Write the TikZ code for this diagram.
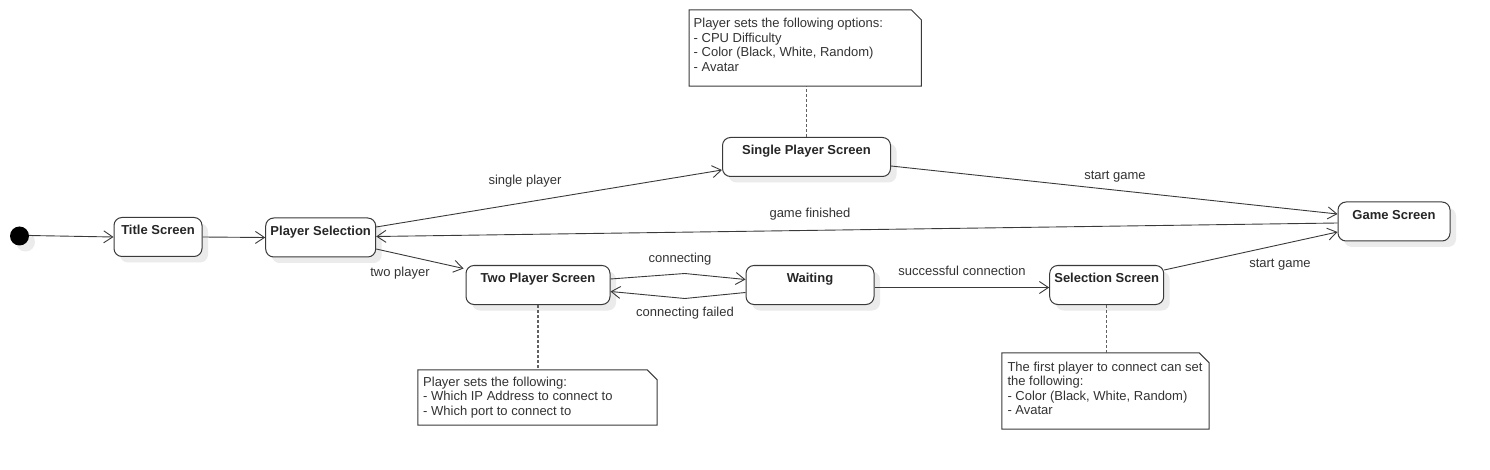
\documentclass[tikz,border=0pt]{standalone}
\usepackage{fontspec}
\setmainfont{Liberation Sans}
\usetikzlibrary{arrows.meta,shadows,calc}
\definecolor{linec}{HTML}{3A3A3A}
\definecolor{textc}{HTML}{262626}
\definecolor{labc}{HTML}{333333}
\definecolor{shadowc}{HTML}{EBEBEB}
\definecolor{dotc}{HTML}{606060}
\begin{document}
\begin{tikzpicture}[x=1pt,y=-1pt,
  font=\fontsize{13}{14.5}\selectfont,
  shade/.style={drop shadow={shadow xshift=6pt, shadow yshift=-6pt, fill=shadowc, opacity=1}},
  statebox/.style={draw=linec, line width=1pt, fill=white, rounded corners=8pt,
    minimum height=39pt, inner xsep=3pt, inner ysep=4pt,
    text height=13.5pt, text depth=17.5pt,
    font=\fontsize{13}{14.5}\selectfont\bfseries, text=textc, shade},
  arr/.style={draw=linec, line width=0.9pt, -{Straight Barb[length=9pt,width=12pt,line width=0.9pt]}},
  lab/.style={text=labc, inner sep=0pt},
  noteshape/.style={draw=none, minimum width=0pt, inner sep=0pt},
  noteline/.style={draw=linec, line width=1pt},
  notetext/.style={text=labc, inner sep=0pt, align=left, anchor=north west,
    font=\fontsize{13}{14.5}\selectfont},
  dotline/.style={draw=dotc, line width=1.2pt, dash pattern=on 3pt off 2pt}
]
\useasboundingbox (0,0) rectangle (1490,470);
\fill[white] (0,0) rectangle (1490,470);

% states
\node[circle, fill=black, minimum size=19pt, inner sep=0pt, shade] (init) at (19.5,236) {};
\node[statebox, minimum width=88pt] (title) at (158,237) {Title Screen};
\node[statebox, minimum width=110pt] (ps) at (320.7,237.5) {Player Selection};
\node[statebox, minimum width=168pt] (single) at (806.5,157) {Single Player Screen};
\node[statebox, minimum width=144pt] (two) at (538,285) {Two Player Screen};
\node[statebox, minimum width=128pt] (wait) at (810,285) {Waiting};
\node[statebox, minimum width=114pt] (sel) at (1106.7,285) {Selection Screen};
\node[statebox, minimum width=112pt] (game) at (1394,221.5) {Game Screen};

% notes
\node[noteshape, minimum width=231.7pt, minimum height=76pt] (n1) at (805.2,48) {};
\draw[noteline] (n1.south west) -- (n1.north west) -- ($(n1.north east)+(-10,0)$)
  -- ($(n1.north east)+(0,10)$) -- (n1.south east) -- cycle;
\node[notetext] (n1t) at (693.5,18) {Player sets the following options:\\- CPU Difficulty\\- Color (Black, White, Random)\\- Avatar};

\node[noteshape, minimum width=239pt, minimum height=55pt] (n2) at (537.5,397.5) {};
\draw[noteline] (n2.south west) -- (n2.north west) -- ($(n2.north east)+(-10,0)$)
  -- ($(n2.north east)+(0,10)$) -- (n2.south east) -- cycle;
\node[notetext] (n2t) at (423,376.5) {Player sets the following:\\- Which IP Address to connect to\\- Which port to connect to};

\node[noteshape, minimum width=207pt, minimum height=76pt] (n3) at (1105.5,391) {};
\draw[noteline] (n3.south west) -- (n3.north west) -- ($(n3.north east)+(-10,0)$)
  -- ($(n3.north east)+(0,10)$) -- (n3.south east) -- cycle;
\node[notetext] (n3t) at (1007.3,361.5) {The first player to connect can set\\the following:\\- Color (Black, White, Random)\\- Avatar};

% note anchors
\draw[dotline] (single.north) -- (single.north |- n1.south);
\draw[dotline] (two.south) -- (two.south |- n2.north);
\draw[dotline] (sel.south) -- (sel.south |- n3.north);

% transitions
\draw[arr] ($(init.east)+(0,-0.5)$) -- (title.west);
\draw[arr] (title.east) -- (ps.west);
\draw[arr] ($(ps.east)+(0,-10.5)$) -- ($(single.west)+(0,13)$);
\draw[arr] ($(single.east)+(0,9)$) -- ($(game.west)+(0,-7.5)$);
\draw[arr] ($(game.west)+(0,1.5)$) -- ($(ps.east)+(0,-1)$);
\draw[arr] ($(ps.east)+(0,11.5)$) -- ($(two.west)+(-2,-16.5)$);
\draw[arr] ($(two.east)+(0,-6)$) -- ($(two.east)!0.55!(wait.west)+(0,-11.5)$) -- ($(wait.west)+(0,-5.5)$);
\draw[arr] ($(wait.west)+(0,7.5)$) -- ($(two.east)!0.55!(wait.west)+(0,13.5)$) -- ($(two.east)+(0,6.5)$);
\draw[arr] ($(wait.east)+(0,2.5)$) -- ($(sel.west)+(0,2.5)$);
\draw[arr] ($(sel.east)+(0,-15)$) -- ($(game.west)+(0,10.5)$);

% labels
\node[lab] (l1) at (525,181) {single player};
\node[lab] (l2) at (1115,177) {start game};
\node[lab] (l3) at (810,214) {game finished};
\node[lab] (l4) at (400,273) {two player};
\node[lab] (l5) at (680,259.5) {connecting};
\node[lab] (l6) at (685,313) {connecting failed};
\node[lab] (l7) at (962,271) {successful connection};
\node[lab] (l8) at (1280,265) {start game};
\end{tikzpicture}
\end{document}
